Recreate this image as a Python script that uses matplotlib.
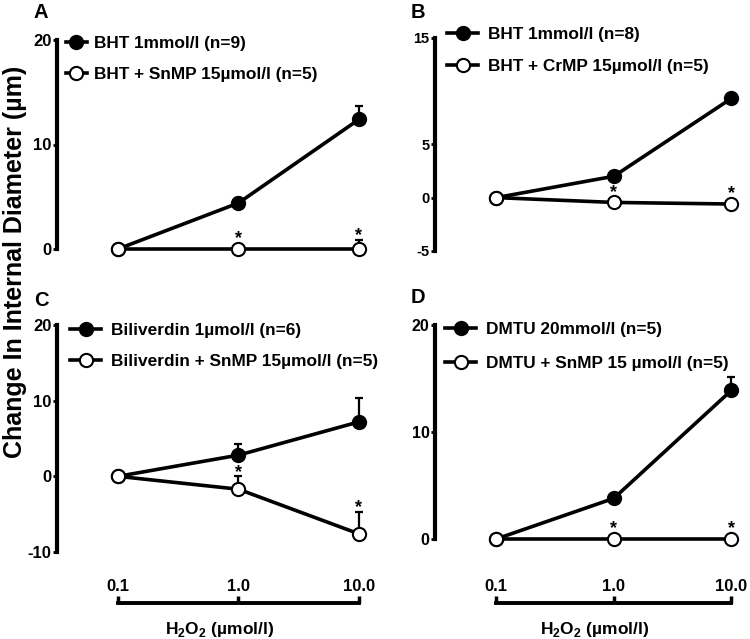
import matplotlib
matplotlib.use("Agg")
import matplotlib.pyplot as plt

plt.rcParams["font.family"] = ["Liberation Sans", "DejaVu Sans"]
plt.rcParams["font.weight"] = "bold"
plt.rcParams["mathtext.fontset"] = "custom"
plt.rcParams["mathtext.rm"] = "Liberation Sans:bold"
plt.rcParams["mathtext.bf"] = "Liberation Sans:bold"

# H2O2 concentrations (categorical positions)
doses = ["0.1", "1.0", "10.0"]

# Panel A
a_labels = ["BHT 1mmol/l (n=9)", "BHT + SnMP 15µmol/l (n=5)"]
a_filled = [0, 4.4, 12.4]
a_filled_err = [0, 0.5, 1.3]
a_open = [0, 0, 0]
a_open_err = [0, 0, 0.9]
a_yticks = [0, 10, 20]

# Panel B
b_labels = ["BHT 1mmol/l (n=8)", "BHT + CrMP 15µmol/l (n=5)"]
b_filled = [0, 2.0, 9.3]
b_filled_err = [0, 0, 0]
b_open = [0, -0.45, -0.6]
b_open_err = [0, 0, 0]
b_yticks = [-5, 0, 5, 15]

# Panel C
c_labels = ["Biliverdin 1µmol/l (n=6)", "Biliverdin + SnMP 15µmol/l (n=5)"]
c_filled = [0, 2.8, 7.2]
c_filled_err = [0, 1.5, 3.1]
c_open = [0, -1.7, -7.6]
c_open_err = [0, 1.7, 2.9]
c_yticks = [-10, 0, 10, 20]

# Panel D
d_labels = ["DMTU 20mmol/l (n=5)", "DMTU + SnMP 15 µmol/l (n=5)"]
d_filled = [0, 3.8, 13.9]
d_filled_err = [0, 0, 1.2]
d_open = [0, 0, 0]
d_open_err = [0, 0, 0]
d_yticks = [0, 10, 20]

# significance markers on the SnMP/CrMP series
stars = [False, True, True]

W, H = 750, 639
fig = plt.figure(figsize=(W / 100, H / 100), dpi=100)


def px_axes(left, top, right, bottom):
    return fig.add_axes([left / W, 1 - bottom / H, (right - left) / W, (bottom - top) / H])


def panel(ax, filled, ferr, opn, oerr, yticks, labels, tick_fs, xlim0,
          handlelen, textpad, lspacing, leg_xy):
    x = list(range(len(doses)))
    ax.set_xlim(xlim0, 2.2)
    ax.set_ylim(yticks[0], yticks[-1])
    ax.errorbar(x, filled, yerr=[[0] * 3, ferr], fmt="none", ecolor="black",
                elinewidth=1.6, capsize=3, capthick=1.6, zorder=2, clip_on=False)
    ax.errorbar(x, opn, yerr=[[0] * 3, oerr], fmt="none", ecolor="black",
                elinewidth=1.6, capsize=3, capthick=1.6, zorder=2, clip_on=False)
    ax.plot(x, filled, "-o", color="black", lw=2.6, ms=9.5, mfc="black",
            mec="black", mew=1.5, label=labels[0], zorder=3, clip_on=False)
    ax.plot(x, opn, "-o", color="black", lw=2.6, ms=9.5, mfc="white",
            mec="black", mew=1.5, label=labels[1], zorder=4, clip_on=False)

    for i in x:
        if not stars[i]:
            continue
        p0 = ax.transData.transform((i, opn[i]))[1]
        p1 = ax.transData.transform((i, opn[i] + oerr[i]))[1]
        dy = max(p1 - p0 + 9, 15) - 9.5
        ax.annotate("*", (i, opn[i]), xytext=(0, dy * 0.72), textcoords="offset points",
                    ha="center", va="baseline", fontsize=13, fontweight="bold")

    for s in ["top", "right"]:
        ax.spines[s].set_visible(False)
    ax.spines["left"].set_linewidth(3)
    ax.spines["left"].set_bounds(yticks[0], yticks[-1])
    ax.set_yticks(yticks)
    ax.set_yticklabels([str(t) for t in yticks])
    ax.tick_params(axis="y", direction="out", length=3, width=2, pad=1,
                   labelsize=tick_fs)
    ax.patch.set_visible(False)

    ax.legend(loc="upper left", bbox_to_anchor=leg_xy, bbox_transform=fig.transFigure,
              frameon=False, fontsize=12.4, handlelength=handlelen,
              handletextpad=textpad, labelspacing=lspacing, borderpad=0,
              borderaxespad=0, numpoints=1)


ax_a = px_axes(57, 40, 57 + 326, 249)
panel(ax_a, a_filled, a_filled_err, a_open, a_open_err, a_yticks, a_labels,
      12, -0.506, 1.2, 0.4, 0.9, (66 / W, 1 - 36 / H))
ax_b = px_axes(435, 37.5, 435 + 320, 251)
panel(ax_b, b_filled, b_filled_err, b_open, b_open_err, b_yticks, b_labels,
      10.5, -0.52, 1.8, 0.6, 1.0, (447 / W, 1 - 27 / H))
ax_c = px_axes(57, 325, 57 + 326, 552)
panel(ax_c, c_filled, c_filled_err, c_open, c_open_err, c_yticks, c_labels,
      12, -0.506, 1.8, 0.6, 0.95, (70 / W, 1 - 323 / H))
ax_d = px_axes(435, 325, 435 + 320, 539)
panel(ax_d, d_filled, d_filled_err, d_open, d_open_err, d_yticks, d_labels,
      11.5, -0.52, 1.8, 0.6, 1.1, (445 / W, 1 - 322 / H))

for ax in [ax_a, ax_b]:
    ax.spines["bottom"].set_visible(False)
    ax.set_xticks([])

for ax, off in [(ax_c, 36.7), (ax_d, 46)]:
    ax.spines["bottom"].set_position(("outward", off))
    ax.spines["bottom"].set_linewidth(2.8)
    ax.spines["bottom"].set_bounds(0, 2)
    ax.set_xticks(range(len(doses)))
    ax.set_xticklabels(doses)
    ax.tick_params(axis="x", direction="in", length=5, width=2.5, pad=-17,
                   labelsize=12)
    ax.set_xlabel("H$_2$O$_2$ (µmol/l)", fontsize=12.5, fontweight="bold", labelpad=12)

for lab, (xp, yp) in zip("ABCD", [(41, 13), (418, 12), (41, 301), (418, 297)]):
    fig.text(xp / W, 1 - yp / H, lab, fontsize=14.5, fontweight="bold",
             ha="center", va="center")

fig.text(15 / W, 1 - 262 / H, "Change In Internal Diameter (µm)", rotation=90,
         fontsize=18, fontweight="bold", ha="center", va="center")

fig.savefig("out.png", dpi=100)
